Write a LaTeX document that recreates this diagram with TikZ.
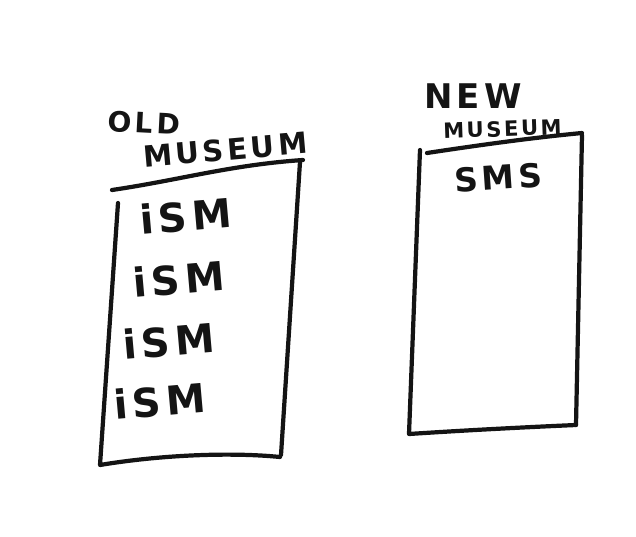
\documentclass[tikz,border=0pt]{standalone}
\usepackage{fontspec}
\setmainfont{DejaVu Sans}
\usepackage{tikz}
\usetikzlibrary{positioning, calc}
\definecolor{penink}{RGB}{20, 20, 20}

\begin{document}
\begin{tikzpicture}[x=0.03cm, y=-0.03cm,
    pen/.style={penink, line width=3.6pt, line cap=round, line join=round},
    scrawl/.style={penink, inner sep=0pt, font=\fontsize{#1}{#1}\selectfont\bfseries},
    scrawl/.default=30,
    wide/.style={font=\fontsize{#1}{#1}\selectfont\bfseries\addfontfeature{LetterSpace=12}}]
    \useasboundingbox (0,0) rectangle (636,537);

    % Old museum box
    \draw[pen] (112,190) .. controls (180,180) and (230,165) .. (303,160);
    \draw[pen] (300,162) -- (281,455);
    \draw[pen] (118,203) -- (100,465) .. controls (160,455) and (230,452) .. (280,457);

    % Old museum labels
    \node[scrawl, wide=24, rotate=-3, anchor=west] (oldA) at (108,121) {OLD};
    \node[scrawl, wide=25, rotate=5, anchor=west] (oldB) at (143,157) {MUSEUM};

    \node[scrawl, wide=34, rotate=5, anchor=west] (ism1) at (140,220) {iSM};
    \node[scrawl, wide=34, rotate=5, anchor=west] (ism2) at (133,283) {iSM};
    \node[scrawl, wide=34, rotate=5, anchor=west] (ism3) at (123,345) {iSM};
    \node[scrawl, wide=34, rotate=5, anchor=west] (ism4) at (114,405) {iSM};

    % New museum box
    \draw[pen] (427,153) .. controls (480,145) and (530,138) .. (582,133);
    \draw[pen] (582,135) -- (576,425);
    \draw[pen] (420,150) -- (409,434) .. controls (470,430) and (530,427) .. (576,425);

    % New museum labels
    \node[scrawl, wide=29, anchor=west] (newA) at (424,96) {NEW};
    \node[scrawl, wide=18, rotate=2, anchor=west] (newB) at (443,131) {MUSEUM};
    \node[scrawl, wide=28, rotate=4, anchor=west] (sms) at (454,181) {SMS};
\end{tikzpicture}
\end{document}
